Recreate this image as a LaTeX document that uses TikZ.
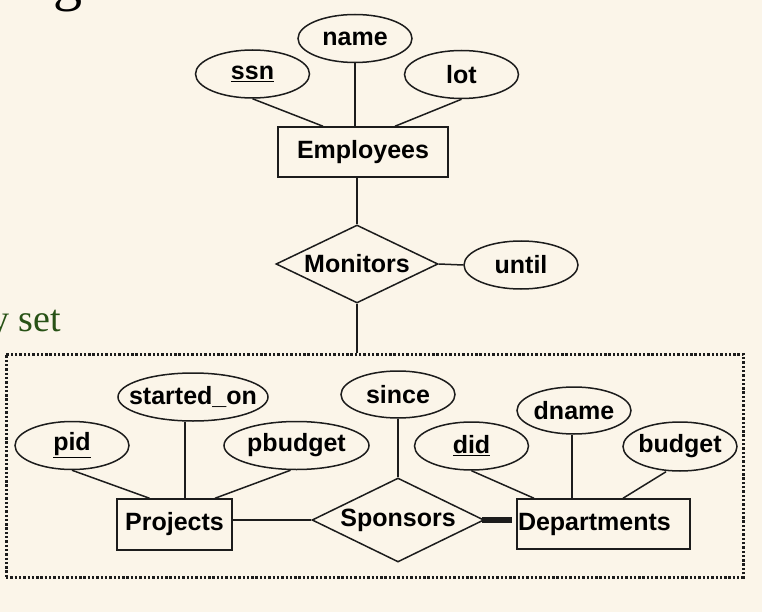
\documentclass[tikz,border=0pt]{standalone}
\usepackage{fontspec}
\setmainfont{Liberation Sans}
\newfontfamily\slidefont{Liberation Serif}
\usetikzlibrary{shapes.geometric}
\definecolor{slidebg}{RGB}{251,245,233}
\definecolor{slidegreen}{RGB}{40,82,22}
\definecolor{ink}{RGB}{28,28,28}
\newcommand{\attname}[1]{\makebox[0pt]{#1}}

\begin{document}
\begin{tikzpicture}[x=1pt, y=-1pt, line width=1.5pt, draw=ink,
  every node/.style={font=\fontsize{25}{29}\selectfont\bfseries, text=black},
  entity/.style={draw=ink, rectangle, minimum height=50pt, inner sep=0pt},
  attr/.style={draw=ink, ellipse, minimum width=114pt, minimum height=48pt, inner sep=0pt},
  rel/.style={draw=ink, diamond, aspect=2.07, inner sep=0pt},
  aggbox/.style={draw=ink, line width=3pt, dash pattern=on 2.4pt off 1.9pt}]
 \fill[slidebg] (0,0) rectangle (762,612);
 \useasboundingbox (0,0) rectangle (762,612);
 % bits of the slide around the figure
 \node[font=\slidefont\fontsize{58}{60}\selectfont, anchor=base west, inner sep=0pt] (ttl) at (53,0) {g};
 \node[font=\slidefont\fontsize{38}{44}\selectfont, text=slidegreen, anchor=base west, inner sep=0pt] (lbl) at (-10.5,331) {y set};
 % Employees
 \node[entity, minimum width=170pt] (emp) at (363,152) {Employees};
 \node[attr] (ssn) at (252.5,74) {\attname{\underline{ssn}}};
 \node[attr] (name) at (355,38.5) {\attname{name}};
 \node[attr] (lot) at (461.5,74.5) {\attname{lot}};
 \draw (ssn.south) -- ([xshift=-40pt]emp.north);
 \draw (name.south) -- (name.south |- emp.north);
 \draw (lot.south) -- ([xshift=32pt]emp.north);
 % Monitors
 \node[rel, minimum width=162pt, minimum height=78pt] (mon) at (357,264) {Monitors};
 \node[attr] (until) at (521,265) {\attname{until}};
 \draw (mon.north |- emp.south) -- (mon.north);
 \draw (mon.east) -- (until.west);
 % aggregation
 \node[aggbox, minimum width=737pt, minimum height=223pt] (aggr) at (374.5,465.5) {};
 \draw (mon.south) -- (mon.south |- aggr.north);
 % Projects
 \node[entity, minimum width=115pt, minimum height=51pt] (proj) at (174.5,524.5) {Projects};
 \node[attr] (pid) at (72,445.5) {\attname{\underline{pid}}};
 \node[attr, minimum width=150pt] (son) at (193,397) {\attname{started\_on}};
 \node[attr, minimum width=145pt] (pbud) at (296.5,445.5) {\attname{pbudget}};
 \draw (pid.south) -- ([xshift=-25pt]proj.north);
 \draw ([xshift=-8pt]son.south) -- ([xshift=-8pt]son.south |- proj.north);
 \draw ([xshift=-6pt]pbud.south) -- ([xshift=40.5pt]proj.north);
 % Sponsors
 \node[rel, minimum width=172pt, minimum height=84pt] (spon) at (398,520) {Sponsors};
 \node[attr, minimum height=47pt] (since) at (398,394.5) {\attname{since}};
 \draw (since.south) -- (spon.north);
 \draw (spon.west -| proj.east) -- (spon.west);
 % Departments
 \node[entity, minimum width=173pt, text width=171pt, align=left] (dept) at (603.5,524) {Departments};
 \node[attr] (did) at (471.5,446) {\attname{\underline{did}}};
 \node[attr, minimum height=47pt] (dname) at (574,410.5) {\attname{dname}};
 \node[attr, minimum height=49pt] (budget) at (680,446.5) {\attname{budget}};
 \draw (did.south) -- ([xshift=-69.5pt]dept.north);
 \draw ([xshift=-2pt]dname.south) -- ([xshift=-2pt]dname.south |- dept.north);
 \draw ([xshift=-14pt]budget.south) -- ([xshift=19.5pt]dept.north);
 \draw[line width=6pt] ([xshift=-3pt]spon.east) -- ([xshift=-4pt]spon.east -| dept.west);
\end{tikzpicture}
\end{document}
